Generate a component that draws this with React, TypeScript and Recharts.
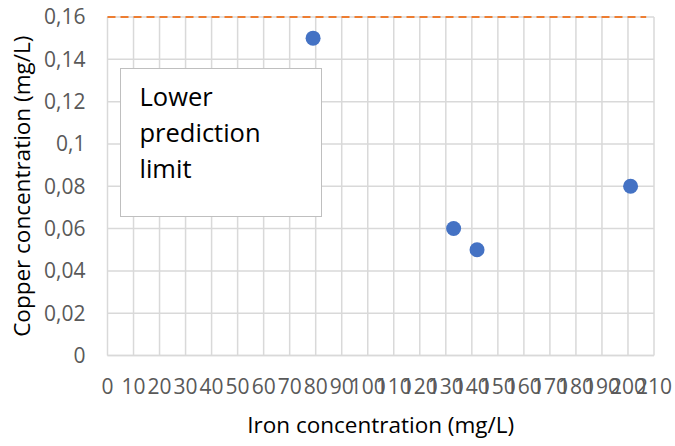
import React from "react";
import {
  ScatterChart,
  Scatter,
  XAxis,
  YAxis,
  CartesianGrid,
  Label,
} from "recharts";

const ironValues = [79, 133, 142, 201];
const copperValues = [0.15, 0.06, 0.05, 0.08];

const limitX = [0, 207];
const limitY = [0.16, 0.16];

const xTicks = [0, 10, 20, 30, 40, 50, 60, 70, 80, 90, 100, 110, 120, 130, 140, 150, 160, 170, 180, 190, 200, 210];
const yTicks = [0, 0.02, 0.04, 0.06, 0.08, 0.1, 0.12, 0.14, 0.16];
const yTickLabels = ["0", "0,02", "0,04", "0,06", "0,08", "0,1", "0,12", "0,14", "0,16"];

const xTitle = "Iron concentration (mg/L)";
const yTitle = "Copper concentration (mg/L)";
const boxLines = ["Lower", "prediction", "limit"];

const points = ironValues.map((x, i) => ({ x, y: copperValues[i] }));
const limitData = limitX.map((x, i) => ({ x, y: limitY[i] }));

const Dot = (props: any) => (
  <circle cx={props.cx} cy={props.cy} r={7.5} fill="#4472c4" />
);
const NoDot = () => <g />;

export default function App() {
  return (
    <div
      style={{
        position: "absolute",
        left: 0,
        top: 0,
        width: 675,
        height: 446,
        fontFamily: "'Open Sans', sans-serif",
        background: "#fff",
      }}
    >
      <ScatterChart
        width={675}
        height={446}
        margin={{ top: 17, right: 21, left: 0, bottom: 0 }}
      >
        <CartesianGrid stroke="#d9d9d9" strokeWidth={1.5} />
        <XAxis
          type="number"
          dataKey="x"
          domain={[0, 210]}
          ticks={xTicks}
          interval={0}
          height={90.5}
          tickSize={0}
          tickMargin={24}
          tickLine={false}
          axisLine={{ stroke: "#d9d9d9", strokeWidth: 1.5 }}
          tick={{ fill: "#595959", fontSize: 21 }}
        >
          <Label
            value={xTitle}
            position="insideBottom"
            offset={13}
            style={{ fill: "#000", fontSize: 22.5 }}
          />
        </XAxis>
        <YAxis
          type="number"
          dataKey="y"
          domain={[0, 0.16]}
          ticks={yTicks}
          interval={0}
          width={107.5}
          tickSize={0}
          tickMargin={22}
          tickLine={false}
          axisLine={false}
          tick={{ fill: "#595959", fontSize: 21 }}
          tickFormatter={(v: number, i: number) => yTickLabels[i]}
        >
          <Label
            value={yTitle}
            angle={-90}
            position="insideLeft"
            offset={22}
            style={{ fill: "#000", fontSize: 22.5, textAnchor: "middle" }}
          />
        </YAxis>
        <Scatter
          data={limitData}
          line={{ stroke: "#ed7d31", strokeWidth: 2, strokeDasharray: "8 5" }}
          shape={NoDot}
          isAnimationActive={false}
        />
        <Scatter data={points} shape={Dot} isAnimationActive={false} />
      </ScatterChart>
      <div
        style={{
          position: "absolute",
          left: 120,
          top: 68,
          width: 202,
          height: 149,
          boxSizing: "border-box",
          border: "1.5px solid #bfbfbf",
          background: "#fff",
          paddingLeft: 18.5,
          paddingTop: 9,
          fontSize: 25.5,
          lineHeight: "36px",
          color: "#000",
        }}
      >
        {boxLines.map((l) => (
          <div key={l}>{l}</div>
        ))}
      </div>
    </div>
  );
}
